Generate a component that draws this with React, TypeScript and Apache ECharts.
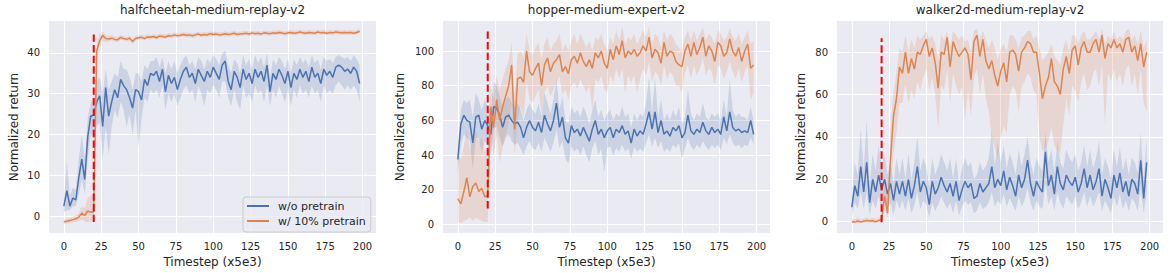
import React, { useEffect, useRef } from 'react';
import * as echarts from 'echarts';

// ---------------- data ----------------
const TITLES = ['halfcheetah-medium-replay-v2', 'hopper-medium-expert-v2', 'walker2d-medium-replay-v2'];
const SERIES_NAMES = ['w/o pretrain', 'w/ 10% pretrain'];
const X_TICKS = [0, 25, 50, 75, 100, 125, 150, 175, 200];
const Y_TICKS = [
  [0, 10, 20, 30, 40],
  [0, 20, 40, 60, 80, 100],
  [0, 20, 40, 60, 80],
];
// sampled timesteps (every 2nd step of 0..199)
const STEPS = Array.from({ length: 100 }, (_, i) => i * 2);

// halfcheetah — w/o pretrain
const HC_BASE_MEAN = [
  2.5, 6.3, 2.5, 4.5, 4.0, 9.5, 14.0, 9.0, 19.5, 24.5,
  24.8, 28.0, 29.5, 22.0, 31.5, 24.5, 28.0, 31.0, 29.0, 33.5,
  32.0, 31.0, 29.0, 26.5, 31.0, 30.5, 28.5, 33.5, 32.0, 35.0,
  34.5, 35.5, 33.0, 36.0, 30.5, 34.5, 32.5, 34.0, 31.0, 33.5,
  35.5, 36.5, 34.0, 35.0, 32.5, 36.0, 34.5, 33.0, 35.5, 34.0,
  36.5, 35.0, 33.5, 37.0, 38.0, 33.0, 31.0, 35.5, 34.0, 31.5,
  36.0, 33.5, 35.0, 32.5, 36.0, 34.0, 35.5, 33.0, 37.0, 30.5,
  35.0, 33.5, 36.0, 34.5, 32.5, 35.5, 31.5, 35.0, 33.5, 36.0,
  34.0, 35.5, 33.0, 36.5, 34.0, 35.0, 32.5, 36.0, 34.5, 35.5,
  34.0, 36.5, 37.0, 36.5, 35.5, 36.0, 35.0, 36.5, 35.5, 32.5,
];
const HC_BASE_LOW = [
  1.0, 1.5, 1.5, 2.5, 2.5, 5.5, 9.0, 5.5, 14.0, 20.0,
  19, 22, 23, 14, 22, 15, 22, 26, 24, 28,
  26, 22, 25, 20, 26, 17, 24, 29, 28, 31,
  30, 31, 29, 32, 26, 30, 28, 30, 27, 29,
  31, 32, 30, 31, 28, 32, 30, 27, 31, 30,
  32, 31, 29, 33, 33, 29, 27, 31, 28, 26,
  32, 29, 30, 28, 32, 30, 31, 28, 32, 27,
  31, 29, 32, 30, 28, 31, 27, 31, 29, 32,
  30, 31, 29, 32, 30, 31, 28, 32, 30, 31,
  30, 32, 33, 32, 31, 32, 31, 32, 31, 28,
];
const HC_BASE_HIGH = [
  4.0, 13.5, 5.0, 7.0, 6.5, 14.0, 20.0, 14.0, 24.0, 28.0,
  29, 33, 34, 30, 36, 31, 33, 35, 34, 38,
  36, 36, 34, 31, 35, 35, 33, 37, 36, 38,
  38, 39, 36.5, 39, 35, 38, 36, 38, 35, 37,
  38.5, 39.5, 37, 38, 36, 39, 38, 36, 38.5, 37.5,
  39.5, 38.5, 37, 40, 40.5, 37, 35, 38.5, 37.5, 35,
  39.5, 37, 38.5, 36, 39.5, 37.5, 39, 36.5, 40, 34,
  38.5, 37, 39, 38, 36, 38.5, 35, 38.5, 37, 39,
  37.5, 38.5, 36.5, 39.5, 37.5, 38.5, 36, 39, 38, 38.5,
  37.5, 39, 39.5, 39, 38.5, 39, 38, 39.5, 38.5, 37,
];
// halfcheetah — w/ 10% pretrain
const HC_PRE_MEAN = [
  -1.3, -1.2, -1.0, -0.8, -0.6, -0.2, 0.8, 0.2, 1.3, 1.0,
  1.2, 40.5, 43.0, 44.3, 43.5, 43.4, 43.6, 43.3, 43.2, 43.8,
  43.5, 43.3, 43.6, 42.8, 43.5, 43.7, 43.8, 43.5, 43.9, 43.8,
  44.0, 43.7, 44.1, 44.0, 43.9, 44.2, 44.1, 44.4, 44.2, 44.3,
  44.5, 44.3, 44.4, 44.2, 44.4, 44.6, 44.3, 44.5, 44.4, 44.7,
  44.5, 44.6, 44.4, 44.5, 44.7, 44.5, 44.6, 44.8, 44.5, 44.6,
  44.7, 44.8, 44.6, 44.9, 44.7, 44.8, 44.6, 44.9, 44.8, 44.7,
  44.9, 44.8, 45.0, 44.9, 44.7, 44.9, 45.0, 44.8, 44.9, 45.1,
  44.9, 44.8, 45.0, 44.9, 44.8, 45.1, 44.9, 45.0, 44.8, 45.0,
  44.9, 45.1, 45.0, 44.9, 45.0, 44.9, 45.0, 44.8, 45.0, 45.3,
];
const HC_PRE_LOW = [
  -1.8, -1.8, -1.6, -1.5, -1.3, -1.2, -0.8, -1.2, -1.5, -1.3,
  -1.2, 38.0, 41.0, 43.0, 42.6, 42.8, 43.0, 42.7, 42.6, 43.2,
  43.0, 42.8, 43.1, 42.2, 43.0, 43.2, 43.3, 43.0, 43.4, 43.3,
  43.5, 43.2, 43.6, 43.5, 43.4, 43.7, 43.6, 43.9, 43.7, 43.8,
  44.0, 43.8, 43.9, 43.7, 43.9, 44.1, 43.8, 44.0, 43.9, 44.2,
  44.0, 44.1, 43.9, 44.0, 44.2, 44.0, 44.1, 44.3, 44.0, 44.1,
  44.2, 44.3, 44.1, 44.4, 44.2, 44.3, 44.1, 44.4, 44.3, 44.2,
  44.4, 44.3, 44.5, 44.4, 44.2, 44.4, 44.5, 44.3, 44.4, 44.6,
  44.4, 44.3, 44.5, 44.4, 44.3, 44.6, 44.4, 44.5, 44.3, 44.5,
  44.4, 44.6, 44.5, 44.4, 44.5, 44.4, 44.5, 44.3, 44.5, 44.8,
];
const HC_PRE_HIGH = [
  -0.8, -0.6, -0.4, -0.1, 0.2, 0.8, 2.5, 2.0, 4.5, 5.0,
  5.5, 42.5, 44.5, 45.3, 44.3, 44.1, 44.3, 44.0, 43.9, 44.4,
  44.1, 43.9, 44.2, 43.5, 44.1, 44.3, 44.4, 44.1, 44.5, 44.4,
  44.6, 44.3, 44.7, 44.6, 44.5, 44.8, 44.7, 45.0, 44.8, 44.9,
  45.1, 44.9, 45.0, 44.8, 45.0, 45.2, 44.9, 45.1, 45.0, 45.3,
  45.1, 45.2, 45.0, 45.1, 45.3, 45.1, 45.2, 45.4, 45.1, 45.2,
  45.3, 45.4, 45.2, 45.5, 45.3, 45.4, 45.2, 45.5, 45.4, 45.3,
  45.5, 45.4, 45.6, 45.5, 45.3, 45.5, 45.6, 45.4, 45.5, 45.7,
  45.5, 45.4, 45.6, 45.5, 45.4, 45.7, 45.5, 45.6, 45.4, 45.6,
  45.5, 45.7, 45.6, 45.5, 45.6, 45.5, 45.6, 45.4, 45.6, 45.8,
];

// hopper — w/o pretrain
const HP_BASE_MEAN = [
  37.5, 58, 63, 60, 59, 47, 62, 63, 55, 60,
  57, 52, 68, 67, 63, 56, 62, 63, 60, 58,
  59, 56, 50, 56, 60, 56, 54, 59, 53, 63,
  58, 54, 60, 70, 56, 62, 50, 47, 57, 53,
  55, 51, 56, 52, 48, 55, 60, 52, 55, 50,
  54, 56, 50, 55, 53, 57, 52, 54, 47, 55,
  51, 54, 52, 58, 65, 55, 65, 53, 60, 52,
  54, 51, 56, 54, 57, 50, 53, 63, 54, 52,
  55, 53, 59, 54, 52, 56, 53, 55, 52, 62,
  54, 65, 56, 54, 55, 53, 54, 53, 60, 52,
];
const HP_BASE_LOW = [
  30, 46, 52, 50, 48, 32, 50, 50, 42, 48,
  46, 40, 55, 57, 50, 45, 50, 52, 48, 46,
  47, 44, 40, 45, 48, 44, 43, 47, 42, 50,
  46, 42, 47, 55, 44, 48, 38, 35, 45, 42,
  44, 40, 45, 40, 36, 44, 48, 40, 44, 30,
  44, 45, 40, 44, 42, 46, 42, 44, 38, 45,
  42, 44, 42, 47, 52, 45, 50, 44, 48, 42,
  44, 42, 46, 44, 47, 38, 44, 50, 45, 43,
  46, 44, 48, 45, 43, 46, 44, 46, 43, 50,
  46, 52, 47, 45, 46, 44, 46, 45, 50, 46,
];
const HP_BASE_HIGH = [
  45, 66, 72, 70, 72, 62, 76, 72, 66, 72,
  68, 64, 82, 80, 74, 68, 72, 74, 70, 68,
  70, 66, 60, 66, 70, 66, 64, 70, 62, 76,
  70, 64, 72, 84, 66, 74, 60, 58, 68, 64,
  66, 62, 68, 64, 58, 66, 72, 62, 66, 60,
  64, 66, 60, 64, 62, 68, 62, 64, 56, 64,
  60, 64, 62, 70, 85, 64, 85, 62, 72, 60,
  64, 60, 66, 62, 68, 58, 62, 78, 64, 60,
  64, 62, 70, 62, 60, 64, 62, 64, 60, 72,
  62, 84, 66, 62, 64, 62, 62, 60, 68, 60,
];
// hopper — w/ 10% pretrain
const HP_PRE_MEAN = [
  15, 12, 19, 27, 16, 22, 24, 19, 21, 16,
  17, 68, 56, 72, 60, 68, 74, 80, 92, 55,
  84, 85, 82, 100, 88, 86, 90, 93, 80, 92,
  96, 88, 93, 95, 98, 88, 91, 87, 95, 97,
  93, 99, 94, 91, 95, 90, 99, 96, 100, 93,
  90, 101, 95, 103, 98, 106, 96, 100, 98, 101,
  97, 99, 103, 100, 108, 96, 101, 99, 93, 105,
  97, 100, 99, 94, 92, 91, 100, 104, 97, 105,
  98, 102, 108, 97, 103, 100, 94, 105, 103, 97,
  99, 107, 100, 97, 102, 94, 100, 104, 90, 92,
];
const HP_PRE_LOW = [
  1, 1, 2, 3, 4, 2, 4, 3, 2, 1.5,
  1.5, 52, 40, 52, 35, 45, 52, 58, 70, 40,
  60, 68, 62, 82, 72, 70, 74, 78, 64, 76,
  80, 74, 78, 82, 85, 75, 78, 72, 80, 82,
  78, 84, 80, 76, 80, 66, 84, 82, 86, 78,
  76, 86, 82, 90, 84, 90, 76, 86, 82, 86,
  76, 84, 90, 86, 94, 82, 88, 86, 80, 92,
  84, 88, 86, 80, 80, 76, 88, 92, 84, 92,
  86, 90, 96, 86, 90, 88, 80, 92, 90, 84,
  88, 94, 88, 84, 90, 82, 88, 92, 72, 76,
];
const HP_PRE_HIGH = [
  40, 38, 45, 55, 42, 50, 55, 48, 50, 42,
  45, 80, 72, 86, 78, 84, 90, 95, 105, 75,
  98, 100, 96, 110, 100, 98, 102, 105, 95, 104,
  108, 100, 104, 106, 110, 100, 104, 100, 106, 110,
  104, 110, 106, 102, 106, 100, 108, 106, 110, 104,
  100, 108, 104, 112, 106, 114, 104, 108, 106, 110,
  104, 108, 112, 108, 114, 104, 110, 108, 102, 112,
  106, 110, 108, 104, 102, 100, 108, 112, 106, 112,
  106, 110, 114, 106, 110, 108, 104, 112, 110, 106,
  108, 113, 108, 106, 110, 104, 108, 112, 104, 106,
];

// walker2d — w/o pretrain
const WK_BASE_MEAN = [
  6.8, 17, 12, 26, 14, 28, 9, 20, 14, 22,
  15, 20, 13, 18, 10, 19, 13, 19, 12, 20,
  11, 17, 26, 14, 19, 16, 8, 19, 13, 16,
  21, 17, 14, 18, 12, 19, 10, 15, 19, 16,
  18, 11, 12, 18, 14, 16, 18, 26, 16, 20,
  17, 24, 15, 21, 17, 12, 22, 16, 20, 29,
  18, 12, 19, 16, 14, 33, 17, 22, 13, 26,
  18, 15, 22, 19, 17, 21, 14, 18, 25, 16,
  22, 15, 19, 25, 12, 20, 16, 11, 22, 16,
  23, 14, 19, 12, 20, 18, 13, 29, 11, 28,
];
const WK_BASE_LOW = [
  2, 9, 6, 14, 6, 14, 3, 10, 6, 12,
  6, 11, 6, 9, 3, 10, 6, 10, 5, 11,
  4, 8, 14, 6, 10, 8, 2, 9, 5, 8,
  12, 9, 6, 9, 4, 10, 3, 7, 10, 8,
  9, 4, 5, 9, 6, 7, 9, 14, 7, 10,
  8, 13, 7, 11, 8, 5, 12, 7, 10, 16,
  9, 5, 10, 7, 6, 18, 8, 12, 5, 14,
  9, 6, 12, 10, 8, 12, 6, 9, 14, 7,
  12, 7, 10, 14, 5, 10, 7, 4, 12, 7,
  13, 6, 10, 5, 11, 9, 5, 16, 4, 14,
];
const WK_BASE_HIGH = [
  12, 28, 22, 44, 24, 48, 18, 32, 24, 36,
  26, 32, 22, 28, 18, 30, 22, 30, 20, 32,
  20, 28, 40, 24, 30, 26, 16, 30, 22, 26,
  32, 28, 24, 30, 20, 30, 18, 25, 30, 26,
  28, 20, 22, 28, 24, 26, 30, 43, 26, 38,
  28, 36, 25, 32, 28, 22, 34, 26, 32, 40,
  28, 22, 30, 26, 24, 42, 28, 34, 23, 38,
  28, 25, 34, 30, 28, 32, 24, 28, 36, 26,
  34, 25, 30, 38, 22, 30, 26, 20, 34, 26,
  35, 24, 30, 22, 30, 28, 23, 42, 20, 40,
];
// walker2d — w/ 10% pretrain
const WK_PRE_MEAN = [
  0.0, -0.2, 0.3, -0.1, 0.2, 0.5, 0.3, 0.4, 0.0, 0.5,
  1.0, 12, 4, 30, 50, 58, 73, 70, 80, 70,
  77, 72, 80, 79, 83, 86, 78, 82, 75, 63,
  80, 79, 87, 73, 85, 81, 78, 80, 82, 79,
  67, 85, 88, 78, 86, 76, 72, 76, 69, 64,
  71, 75, 66, 80, 81, 79, 71, 80, 82, 85,
  84, 80, 80, 70, 58, 64, 68, 77, 66, 64,
  60, 72, 78, 70, 81, 83, 74, 82, 85, 80,
  80, 84, 86, 80, 88, 77, 84, 82, 86, 82,
  84, 80, 86, 87, 80, 83, 76, 84, 73, 80,
];
const WK_PRE_LOW = [
  -0.6, -0.7, -0.5, -0.6, -0.5, -0.4, -0.5, -0.4, -0.6, -0.4,
  -0.3, 6, 2, 15, 32, 42, 56, 56, 65, 56,
  62, 58, 66, 62, 68, 72, 62, 68, 60, 44,
  64, 62, 72, 56, 70, 64, 60, 64, 48, 62,
  50, 68, 72, 60, 70, 58, 52, 40, 35, 30,
  40, 45, 42, 60, 64, 62, 52, 64, 66, 70,
  68, 62, 60, 40, 33, 35, 38, 45, 36, 34,
  32, 46, 58, 50, 64, 62, 56, 66, 70, 62,
  64, 70, 72, 64, 74, 46, 70, 66, 72, 66,
  70, 64, 72, 74, 64, 70, 60, 72, 56, 52,
];
const WK_PRE_HIGH = [
  1.5, 1.0, 1.8, 1.2, 1.5, 2.0, 1.5, 1.8, 1.2, 2.0,
  2.5, 22, 10, 45, 62, 70, 82, 80, 88, 80,
  86, 82, 88, 86, 88, 90, 86, 88, 84, 76,
  88, 86, 90, 82, 90, 88, 86, 88, 85, 86,
  80, 90, 91, 86, 90, 86, 82, 86, 82, 76,
  82, 84, 80, 88, 88, 86, 82, 87, 88, 90,
  90, 86, 88, 82, 76, 78, 80, 84, 78, 76,
  74, 82, 86, 80, 88, 88, 84, 88, 90, 86,
  86, 88, 90, 86, 91, 84, 88, 86, 90, 86,
  88, 86, 90, 91, 86, 88, 84, 90, 82, 86,
];

// vertical marker at timestep 20
const VLINE_X = 20;
const VLINE_LOW = [-1.4, 9.3, -0.3];
const VLINE_HIGH = [45.3, 111.3, 86.6];

// axis ranges
const X_MIN = -9.95;
const X_MAX = 208.95;
const Y_MIN = [-4.1, -4.9, -5.4];
const Y_MAX = [47.8, 117.3, 94.7];

const PANELS = [
  { base: [HC_BASE_MEAN, HC_BASE_LOW, HC_BASE_HIGH], pre: [HC_PRE_MEAN, HC_PRE_LOW, HC_PRE_HIGH] },
  { base: [HP_BASE_MEAN, HP_BASE_LOW, HP_BASE_HIGH], pre: [HP_PRE_MEAN, HP_PRE_LOW, HP_PRE_HIGH] },
  { base: [WK_BASE_MEAN, WK_BASE_LOW, WK_BASE_HIGH], pre: [WK_PRE_MEAN, WK_PRE_LOW, WK_PRE_HIGH] },
];

// ---------------- layout / style ----------------
const GRID_LEFT = [49, 443, 837];
const GRID_WIDTH = [327, 327, 326];
const GRID_TOP = 21;
const GRID_HEIGHT = 216;
const Y_NAME_GAP = [29.5, 37.5, 30.5];
const FONT = 'DejaVu Sans';
const TEXT = '#262626';
const BLUE = '#4c72b0';
const ORANGE = '#dd8452';
const BLUE_FILL = 'rgba(76,114,176,0.2)';
const ORANGE_FILL = 'rgba(221,132,82,0.2)';

// confidence band drawn as one polygon through the axis scales
function bandRenderer(fill: string) {
  return (params: any, api: any) => {
    if (params.dataIndex !== 0) return null;
    const n = params.dataInsideLength ?? STEPS.length;
    const upper: number[][] = [];
    const lower: number[][] = [];
    for (let i = 0; i < n; i++) {
      const x = api.value(0, i);
      upper.push(api.coord([x, api.value(2, i)]));
      lower.push(api.coord([x, api.value(1, i)]));
    }
    const points = upper.concat(lower.reverse());
    return {
      type: 'polygon',
      shape: { points },
      style: { fill, stroke: 'none' },
      silent: true,
    };
  };
}

function buildSeries(p: number): any[] {
  const out: any[] = [];
  const groups = [
    { d: PANELS[p].base, name: SERIES_NAMES[0], color: BLUE, fill: BLUE_FILL, key: 'b' },
    { d: PANELS[p].pre, name: SERIES_NAMES[1], color: ORANGE, fill: ORANGE_FILL, key: 'o' },
  ];
  groups.forEach((g) => {
    const [mean, low, high] = g.d;
    out.push({
      type: 'custom', name: `p${p}${g.key}-band`, xAxisIndex: p, yAxisIndex: p,
      data: STEPS.map((x, i) => [x, low[i], high[i]]),
      encode: { x: 0, y: [1, 2] },
      renderItem: bandRenderer(g.fill),
      silent: true, clip: true,
    });
    out.push({
      type: 'line', name: g.name, xAxisIndex: p, yAxisIndex: p,
      data: STEPS.map((x, i) => [x, mean[i]]), symbol: 'none', silent: true,
      color: g.color, itemStyle: { color: g.color },
      lineStyle: { width: 1.5, color: g.color },
    });
  });
  out.push({
    type: 'line', name: `p${p}-vline`, xAxisIndex: p, yAxisIndex: p, z: 5,
    data: [[VLINE_X, VLINE_LOW[p]], [VLINE_X, VLINE_HIGH[p]]], symbol: 'none', silent: true,
    lineStyle: { width: 2, color: '#ff0000', type: [7.4, 3.2], cap: 'butt' },
    itemStyle: { color: '#ff0000' },
  });
  return out;
}

export default function App() {
  const ref = useRef<HTMLDivElement>(null);
  useEffect(() => {
    if (!ref.current) return;
    const chart = echarts.init(ref.current, undefined, { renderer: 'svg' });
    const idx = [0, 1, 2];
    const option: any = {
      animation: false,
      backgroundColor: '#ffffff',
      textStyle: { fontFamily: FONT },
      title: idx.map((p) => ({
        text: TITLES[p],
        left: GRID_LEFT[p] + GRID_WIDTH[p] / 2,
        top: 4,
        textAlign: 'center',
        padding: 0,
        textStyle: { fontSize: 12, fontWeight: 'normal', color: TEXT, fontFamily: FONT },
      })),
      legend: {
        data: SERIES_NAMES,
        orient: 'vertical',
        left: 243,
        top: 197,
        padding: [2, 5, 4, 4],
        itemGap: 1,
        itemWidth: 22,
        itemHeight: 2,
        icon: 'rect',
        backgroundColor: 'rgba(234,234,242,0.8)',
        borderColor: '#cccccc',
        borderWidth: 1,
        borderRadius: 3,
        selectedMode: false,
        textStyle: { fontSize: 11, color: TEXT, fontFamily: FONT, lineHeight: 14, padding: [0, 0, 0, 4] },
      },
      grid: idx.map((p) => ({
        left: GRID_LEFT[p], top: GRID_TOP, width: GRID_WIDTH[p], height: GRID_HEIGHT,
        show: true, backgroundColor: '#eaeaf2', borderWidth: 0, containLabel: false,
      })),
      xAxis: idx.map((p) => ({
        type: 'value', gridIndex: p, min: X_MIN, max: X_MAX,
        name: 'Timestep (x5e3)', nameLocation: 'middle', nameGap: 22.5,
        nameTextStyle: { fontSize: 12, color: TEXT, fontFamily: FONT },
        axisLine: { show: false },
        axisTick: { show: false, customValues: X_TICKS },
        axisLabel: { customValues: X_TICKS, fontSize: 10, color: TEXT, margin: 8, fontFamily: FONT },
        splitLine: { show: true, lineStyle: { color: '#ffffff', width: 1 } },
      })),
      yAxis: idx.map((p) => ({
        type: 'value', gridIndex: p, min: Y_MIN[p], max: Y_MAX[p],
        name: 'Normalized return', nameLocation: 'middle', nameGap: Y_NAME_GAP[p], nameRotate: 90,
        nameTextStyle: { fontSize: 12, color: TEXT, fontFamily: FONT },
        axisLine: { show: false },
        axisTick: { show: false, customValues: Y_TICKS[p] },
        axisLabel: { customValues: Y_TICKS[p], fontSize: 10, color: TEXT, margin: 9, fontFamily: FONT },
        splitLine: { show: true, lineStyle: { color: '#ffffff', width: 1 } },
      })),
      series: idx.flatMap((p) => buildSeries(p)),
    };
    chart.setOption(option);
    return () => chart.dispose();
  }, []);
  return (
    <div
      ref={ref}
      style={{ position: 'absolute', left: 0, top: 0, width: 1173, height: 273 }}
    />
  );
}
